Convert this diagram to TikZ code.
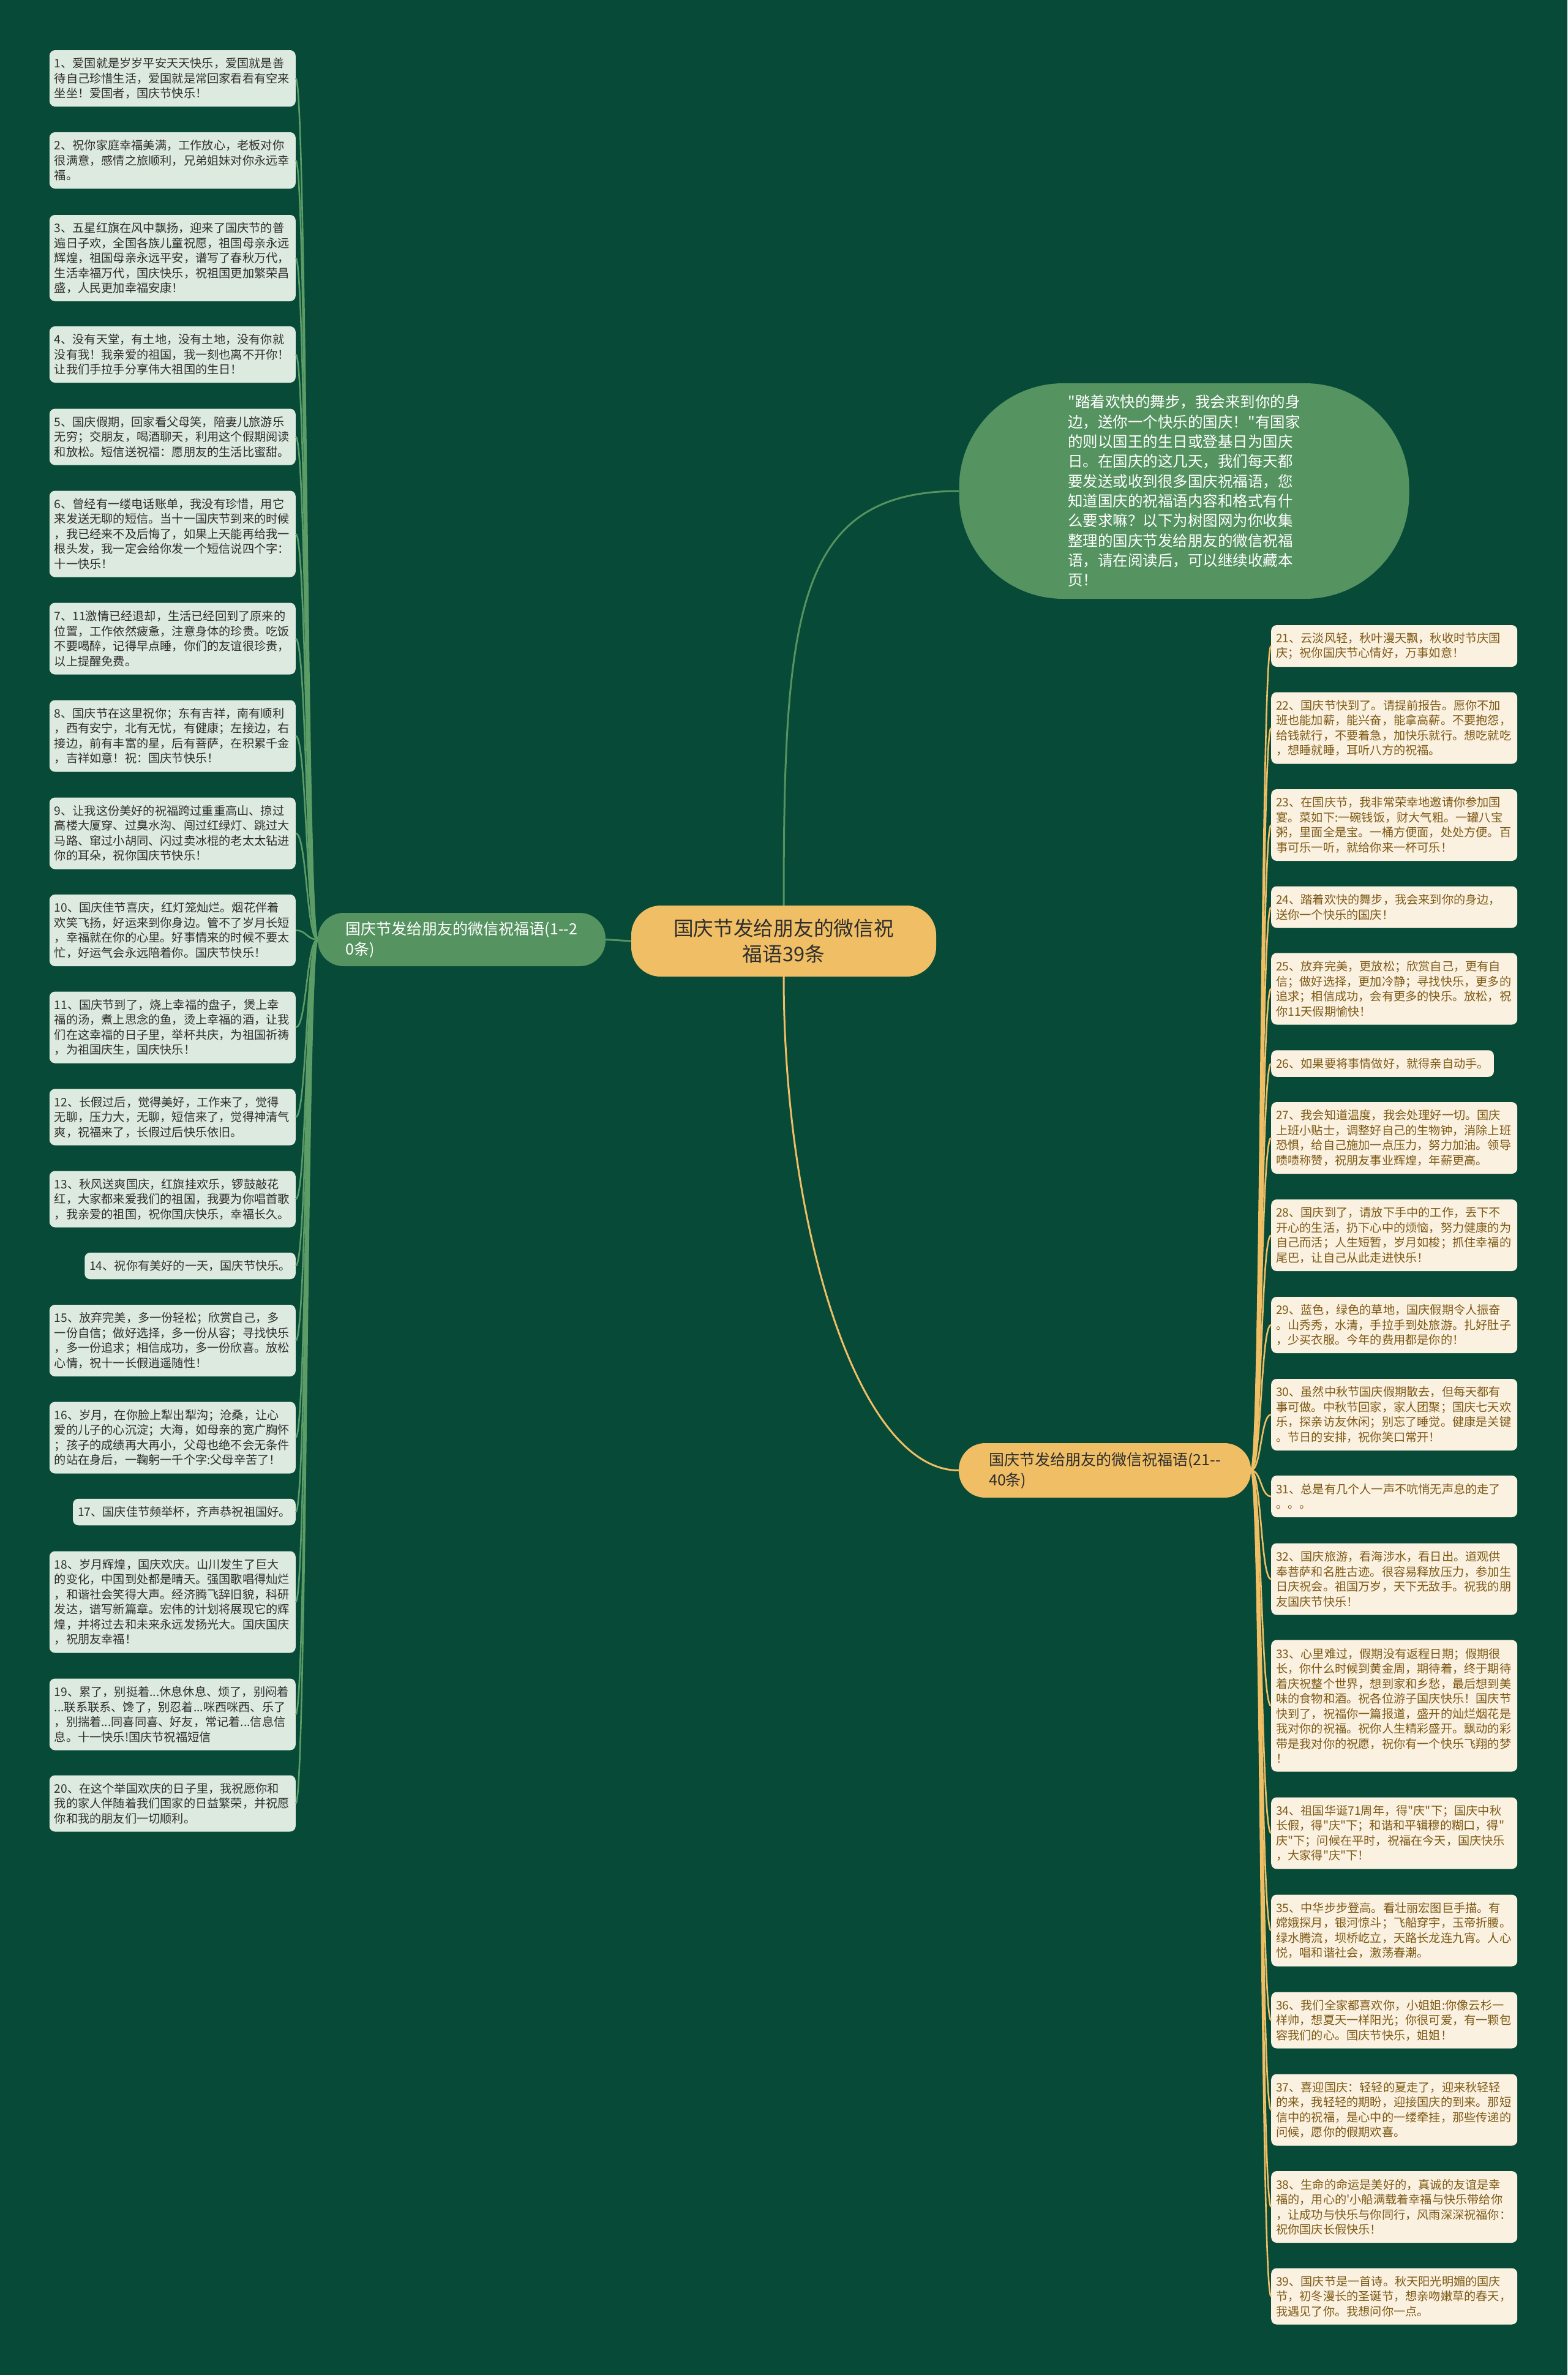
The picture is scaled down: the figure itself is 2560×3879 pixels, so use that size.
\documentclass[tikz,border=0pt]{standalone}
\usepackage{fontspec}
\setmainfont{Noto Sans CJK SC}[Ligatures=TeXOff]
\definecolor{bg}{HTML}{074A37}
\definecolor{gfill}{HTML}{559361}
\definecolor{gline}{HTML}{5C9C66}
\definecolor{yfill}{HTML}{F0BE64}
\definecolor{lfill}{HTML}{DDEADF}
\definecolor{ltext}{HTML}{2E2E2E}
\definecolor{rfill}{HTML}{FBF1E1}
\definecolor{rtext}{HTML}{7D5A14}
\tikzset{
  leafL/.style={fill=lfill, rounded corners=9, text=ltext, font=\fontsize{19.2}{24.5}\selectfont, align=left, inner xsep=8, inner ysep=0, anchor=east},
  leafR/.style={fill=rfill, rounded corners=9, text=rtext, font=\fontsize{19.2}{24.5}\selectfont, align=left, inner xsep=8, inner ysep=0, anchor=west},
  wide/.style={text width=386},
  lconn/.style={draw=gline, line width=2.6},
  rconn/.style={draw=yfill, line width=2.6},
  gconn/.style={draw=gfill, line width=3},
  yconn/.style={draw=yfill, line width=3},
}
\begin{document}
\begin{tikzpicture}[x=1pt,y=-1pt]
\useasboundingbox (0,0) rectangle (2560,3879);
\fill[bg] (0,0) rectangle (2560,3879);

% central and branches
\node[fill=yfill, rounded corners=48, minimum width=498, minimum height=116, align=center, text=ltext, font=\fontsize{32.7}{41.5}\selectfont, inner sep=0] (c) at (1280,1537) {国庆节发给朋友的微信祝\\福语39条};
\node[fill=gfill, rounded corners=42, minimum width=470, minimum height=87, align=left, text=white, font=\fontsize{25}{33}\selectfont, inner sep=0] (lb) at (754,1534.5) {国庆节发给朋友的微信祝福语(1-{}-2\\0条)};
\node[fill=yfill, rounded corners=43, minimum width=477, minimum height=89, align=left, text=ltext, font=\fontsize{25}{33}\selectfont, inner sep=0] (rb) at (1804.5,2401.5) {国庆节发给朋友的微信祝福语(21-{}-\\40条)};
\node[fill=gfill, rounded corners=170, minimum width=735, minimum height=352, align=left, text=white, font=\fontsize{24.5}{32.3}\selectfont, inner sep=0] (bub) at (1934,802) {"踏着欢快的舞步，我会来到你的身\\边，送你一个快乐的国庆！"有国家\\的则以国王的生日或登基日为国庆\\日。在国庆的这几天，我们每天都\\要发送或收到很多国庆祝福语，您\\知道国庆的祝福语内容和格式有什\\么要求嘛？以下为树图网为你收集\\整理的国庆节发给朋友的微信祝福\\语，请在阅读后，可以继续收藏本\\页！};

% left leaves
\node[leafL, wide, minimum height=92] (l1) at (483,128) {1、爱国就是岁岁平安天天快乐，爱国就是善\\待自己珍惜生活，爱国就是常回家看看有空来\\坐坐！爱国者，国庆节快乐！};
\node[leafL, wide, minimum height=92] (l2) at (483,262) {2、祝你家庭幸福美满，工作放心，老板对你\\很满意，感情之旅顺利，兄弟姐妹对你永远幸\\福。};
\node[leafL, wide, minimum height=141] (l3) at (483,421.5) {3、五星红旗在风中飘扬，迎来了国庆节的普\\遍日子欢，全国各族儿童祝愿，祖国母亲永远\\辉煌，祖国母亲永远平安，谱写了春秋万代，\\生活幸福万代，国庆快乐，祝祖国更加繁荣昌\\盛，人民更加幸福安康！};
\node[leafL, wide, minimum height=92] (l4) at (483,579) {4、没有天堂，有土地，没有土地，没有你就\\没有我！我亲爱的祖国，我一刻也离不开你！\\让我们手拉手分享伟大祖国的生日！};
\node[leafL, wide, minimum height=92] (l5) at (483,713.5) {5、国庆假期，回家看父母笑，陪妻儿旅游乐\\无穷；交朋友，喝酒聊天，利用这个假期阅读\\和放松。短信送祝福：愿朋友的生活比蜜甜。};
\node[leafL, wide, minimum height=141] (l6) at (483,872) {6、曾经有一缕电话账单，我没有珍惜，用它\\来发送无聊的短信。当十一国庆节到来的时候\\，我已经来不及后悔了，如果上天能再给我一\\根头发，我一定会给你发一个短信说四个字：\\十一快乐！};
\node[leafL, wide, minimum height=117] (l7) at (483,1043) {7、11激情已经退却，生活已经回到了原来的\\位置，工作依然疲惫，注意身体的珍贵。吃饭\\不要喝醉，记得早点睡，你们的友谊很珍贵，\\以上提醒免费。};
\node[leafL, wide, minimum height=117] (l8) at (483,1202) {8、国庆节在这里祝你；东有吉祥，南有顺利\\，西有安宁，北有无忧，有健康；左接边，右\\接边，前有丰富的星，后有菩萨，在积累千金\\，吉祥如意！祝：国庆节快乐！};
\node[leafL, wide, minimum height=117] (l9) at (483,1361) {9、让我这份美好的祝福跨过重重高山、掠过\\高楼大厦穿、过臭水沟、闯过红绿灯、跳过大\\马路、窜过小胡同、闪过卖冰棍的老太太钻进\\你的耳朵，祝你国庆节快乐！};
\node[leafL, wide, minimum height=117] (l10) at (483,1519.5) {10、国庆佳节喜庆，红灯笼灿烂。烟花伴着\\欢笑飞扬，好运来到你身边。管不了岁月长短\\，幸福就在你的心里。好事情来的时候不要太\\忙，好运气会永远陪着你。国庆节快乐！};
\node[leafL, wide, minimum height=117] (l11) at (483,1678) {11、国庆节到了，烧上幸福的盘子，煲上幸\\福的汤，煮上思念的鱼，烫上幸福的酒，让我\\们在这幸福的日子里，举杯共庆，为祖国祈祷\\，为祖国庆生，国庆快乐！};
\node[leafL, wide, minimum height=92] (l12) at (483,1824.5) {12、长假过后，觉得美好，工作来了，觉得\\无聊，压力大，无聊，短信来了，觉得神清气\\爽，祝福来了，长假过后快乐依旧。};
\node[leafL, wide, minimum height=92] (l13) at (483,1958.5) {13、秋风送爽国庆，红旗挂欢乐，锣鼓敲花\\红，大家都来爱我们的祖国，我要为你唱首歌\\，我亲爱的祖国，祝你国庆快乐，幸福长久。};
\node[leafL, minimum height=43.5] (l14) at (483,2067.5) {14、祝你有美好的一天，国庆节快乐。};
\node[leafL, wide, minimum height=117] (l15) at (483,2189.5) {15、放弃完美，多一份轻松；欣赏自己，多\\一份自信；做好选择，多一份从容；寻找快乐\\，多一份追求；相信成功，多一份欣喜。放松\\心情，祝十一长假逍遥随性！};
\node[leafL, wide, minimum height=117] (l16) at (483,2348) {16、岁月，在你脸上犁出犁沟；沧桑，让心\\爱的儿子的心沉淀；大海，如母亲的宽广胸怀\\；孩子的成绩再大再小，父母也绝不会无条件\\的站在身后，一鞠躬一千个字:父母辛苦了！};
\node[leafL, minimum height=43.5] (l17) at (483,2469.5) {17、国庆佳节频举杯，齐声恭祝祖国好。};
\node[leafL, wide, minimum height=166] (l18) at (483,2616.5) {18、岁月辉煌，国庆欢庆。山川发生了巨大\\的变化，中国到处都是晴天。强国歌唱得灿烂\\，和谐社会笑得大声。经济腾飞辞旧貌，科研\\发达，谱写新篇章。宏伟的计划将展现它的辉\\煌，并将过去和未来永远发扬光大。国庆国庆\\，祝朋友幸福！};
\node[leafL, wide, minimum height=117] (l19) at (483,2800) {19、累了，别挺着...休息休息、烦了，别闷着\\...联系联系、馋了，别忍着...咪西咪西、乐了\\，别揣着...同喜同喜、好友，常记着...信息信\\息。十一快乐!国庆节祝福短信};
\node[leafL, wide, minimum height=92] (l20) at (483,2945.5) {20、在这个举国欢庆的日子里，我祝愿你和\\我的家人伴随着我们国家的日益繁荣，并祝愿\\你和我的朋友们一切顺利。};

% right leaves
\node[leafR, wide, minimum height=68] (r21) at (2076,1055) {21、云淡风轻，秋叶漫天飘，秋收时节庆国\\庆；祝你国庆节心情好，万事如意！};
\node[leafR, wide, minimum height=117] (r22) at (2076,1189) {22、国庆节快到了。请提前报告。愿你不加\\班也能加薪，能兴奋，能拿高薪。不要抱怨，\\给钱就行，不要着急，加快乐就行。想吃就吃\\，想睡就睡，耳听八方的祝福。};
\node[leafR, wide, minimum height=117] (r23) at (2076,1347.5) {23、在国庆节，我非常荣幸地邀请你参加国\\宴。菜如下:一碗钱饭，财大气粗。一罐八宝\\粥，里面全是宝。一桶方便面，处处方便。百\\事可乐一听，就给你来一杯可乐！};
\node[leafR, wide, minimum height=68] (r24) at (2076,1481.5) {24、踏着欢快的舞步，我会来到你的身边，\\送你一个快乐的国庆！};
\node[leafR, wide, minimum height=117] (r25) at (2076,1615) {25、放弃完美，更放松；欣赏自己，更有自\\信；做好选择，更加冷静；寻找快乐，更多的\\追求；相信成功，会有更多的快乐。放松，祝\\你11天假期愉快！};
\node[leafR, minimum height=43.5] (r26) at (2076,1737) {26、如果要将事情做好，就得亲自动手。};
\node[leafR, wide, minimum height=117] (r27) at (2076,1858.5) {27、我会知道温度，我会处理好一切。国庆\\上班小贴士，调整好自己的生物钟，消除上班\\恐惧，给自己施加一点压力，努力加油。领导\\啧啧称赞，祝朋友事业辉煌，年薪更高。};
\node[leafR, wide, minimum height=117] (r28) at (2076,2017.5) {28、国庆到了，请放下手中的工作，丢下不\\开心的生活，扔下心中的烦恼，努力健康的为\\自己而活；人生短暂，岁月如梭；抓住幸福的\\尾巴，让自己从此走进快乐！};
\node[leafR, wide, minimum height=92] (r29) at (2076,2164) {29、蓝色，绿色的草地，国庆假期令人振奋\\。山秀秀，水清，手拉手到处旅游。扎好肚子\\，少买衣服。今年的费用都是你的！};
\node[leafR, wide, minimum height=117] (r30) at (2076,2310.5) {30、虽然中秋节国庆假期散去，但每天都有\\事可做。中秋节回家，家人团聚；国庆七天欢\\乐，探亲访友休闲；别忘了睡觉。健康是关键\\。节日的安排，祝你笑口常开！};
\node[leafR, wide, minimum height=68] (r31) at (2076,2444) {31、总是有几个人一声不吭悄无声息的走了\\。。。};
\node[leafR, wide, minimum height=117] (r32) at (2076,2579) {32、国庆旅游，看海涉水，看日出。道观供\\奉菩萨和名胜古迹。很容易释放压力，参加生\\日庆祝会。祖国万岁，天下无敌手。祝我的朋\\友国庆节快乐！};
\node[leafR, wide, minimum height=215] (r33) at (2076,2786) {33、心里难过，假期没有返程日期；假期很\\长，你什么时候到黄金周，期待着，终于期待\\着庆祝整个世界，想到家和乡愁，最后想到美\\味的食物和酒。祝各位游子国庆快乐！国庆节\\快到了，祝福你一篇报道，盛开的灿烂烟花是\\我对你的祝福。祝你人生精彩盛开。飘动的彩\\带是我对你的祝愿，祝你有一个快乐飞翔的梦\\！};
\node[leafR, wide, minimum height=117] (r34) at (2076,2994) {34、祖国华诞71周年，得"庆"下；国庆中秋\\长假，得"庆"下；和谐和平辑穆的糊口，得"\\庆"下；问候在平时，祝福在今天，国庆快乐\\，大家得"庆"下！};
\node[leafR, wide, minimum height=117] (r35) at (2076,3153) {35、中华步步登高。看壮丽宏图巨手描。有\\嫦娥探月，银河惊斗；飞船穿宇，玉帝折腰。\\绿水腾流，坝桥屹立，天路长龙连九宵。人心\\悦，唱和谐社会，激荡春潮。};
\node[leafR, wide, minimum height=92] (r36) at (2076,3299.5) {36、我们全家都喜欢你，小姐姐:你像云杉一\\样帅，想夏天一样阳光；你很可爱，有一颗包\\容我们的心。国庆节快乐，姐姐！};
\node[leafR, wide, minimum height=117] (r37) at (2076,3446) {37、喜迎国庆：轻轻的夏走了，迎来秋轻轻\\的来，我轻轻的期盼，迎接国庆的到来。那短\\信中的祝福，是心中的一缕牵挂，那些传递的\\问候，愿你的假期欢喜。};
\node[leafR, wide, minimum height=117] (r38) at (2076,3604.5) {38、生命的命运是美好的，真诚的友谊是幸\\福的，用心的'小船满载着幸福与快乐带给你\\，让成功与快乐与你同行，风雨深深祝福你：\\祝你国庆长假快乐！};
\node[leafR, wide, minimum height=92] (r39) at (2076,3750.5) {39、国庆节是一首诗。秋天阳光明媚的国庆\\节，初冬漫长的圣诞节，想亲吻嫩草的春天，\\我遇见了你。我想问你一点。};

% main connectors
\draw[gconn] (c.west) -- (lb.east);
\draw[gconn] (c.north) .. controls (1280,1000) and (1300,802) .. (bub.west);
\draw[yconn] (c.south) .. controls (1280,2000) and (1400,2401.5) .. (rb.west);

% left connectors
\foreach \i in {1,...,20}
  \draw[lconn] (lb.west) .. controls +(-18,0) and +(18,0) .. (l\i.east);
% right connectors
\foreach \i in {21,...,39}
  \draw[rconn] (rb.east) .. controls +(17,0) and +(-17,0) .. (r\i.west);
\end{tikzpicture}
\end{document}
